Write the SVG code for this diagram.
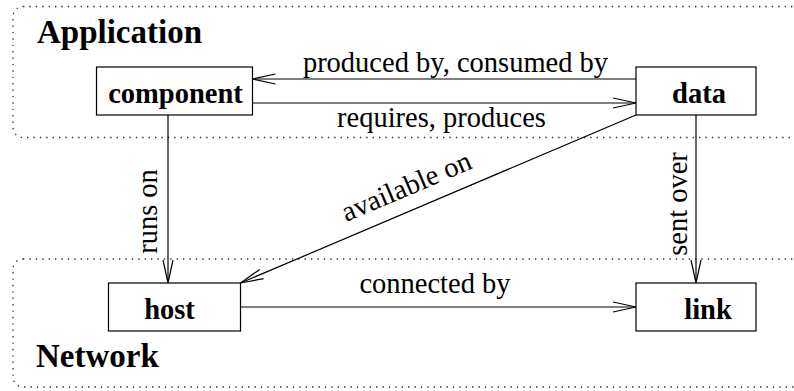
<svg xmlns="http://www.w3.org/2000/svg" width="794" height="391" viewBox="0 0 794 391">
<style>
.grp{fill:none;stroke:#333;stroke-width:1.3;stroke-dasharray:1.4 5;}
.box{fill:#fff;stroke:#000;stroke-width:1.2;}
.title{font-family:"Liberation Serif","Times New Roman",serif;font-weight:bold;font-size:33px;fill:#000;}
.node{font-family:"Liberation Serif","Times New Roman",serif;font-weight:bold;font-size:28.5px;fill:#000;text-anchor:middle;}
.lbl{font-family:"Liberation Serif","Times New Roman",serif;font-size:28.5px;fill:#000;text-anchor:middle;}
.edge{fill:none;stroke:#000;stroke-width:1.2;marker-end:url(#arr);}
</style>
<defs>
<marker id="arr" markerUnits="userSpaceOnUse" markerWidth="26" markerHeight="14" refX="23" refY="6" orient="auto">
<path d="M0,1 L23,6 L0,11" fill="none" stroke="#000" stroke-width="1.2"/>
</marker>
</defs>
<g id="application">
<rect class="grp" x="13" y="6.5" width="790" height="131" rx="10"/>
<text class="title" x="37" y="43">Application</text>
</g>
<g id="network">
<rect class="grp" x="13" y="259" width="790" height="128" rx="10"/>
<text class="title" x="36" y="367">Network</text>
</g>
<g id="connectors">
<path class="edge" d="M636,79 L252.5,79"/>
<text class="lbl" x="455.5" y="71.5">produced by, consumed by</text>
<path class="edge" d="M252.5,103 L636,103"/>
<text class="lbl" x="441.5" y="127">requires, produces</text>
<path class="edge" d="M168,115 L168,283"/>
<text class="lbl" transform="translate(157,211.5) rotate(-90)">runs on</text>
<path class="edge" d="M696,115 L696,283"/>
<text class="lbl" transform="translate(686.5,204) rotate(-90)">sent over</text>
<path class="edge" d="M636,115 L240.5,283"/>
<text class="lbl" transform="translate(410,195) rotate(-23)">available on</text>
<path class="edge" d="M240.5,307 L636,307"/>
<text class="lbl" x="435" y="293">connected by</text>
</g>
<g id="component">
<rect class="box" x="96.5" y="67" width="156" height="48"/>
<text class="node" x="175.5" y="103">component</text>
</g>
<g id="data">
<rect class="box" x="636" y="67" width="120" height="48"/>
<text class="node" x="699" y="102.5">data</text>
</g>
<g id="host">
<rect class="box" x="108.5" y="283" width="132" height="48"/>
<text class="node" x="169.5" y="319">host</text>
</g>
<g id="link">
<rect class="box" x="636" y="283" width="120" height="48"/>
<text class="node" x="708" y="319">link</text>
</g>
</svg>
